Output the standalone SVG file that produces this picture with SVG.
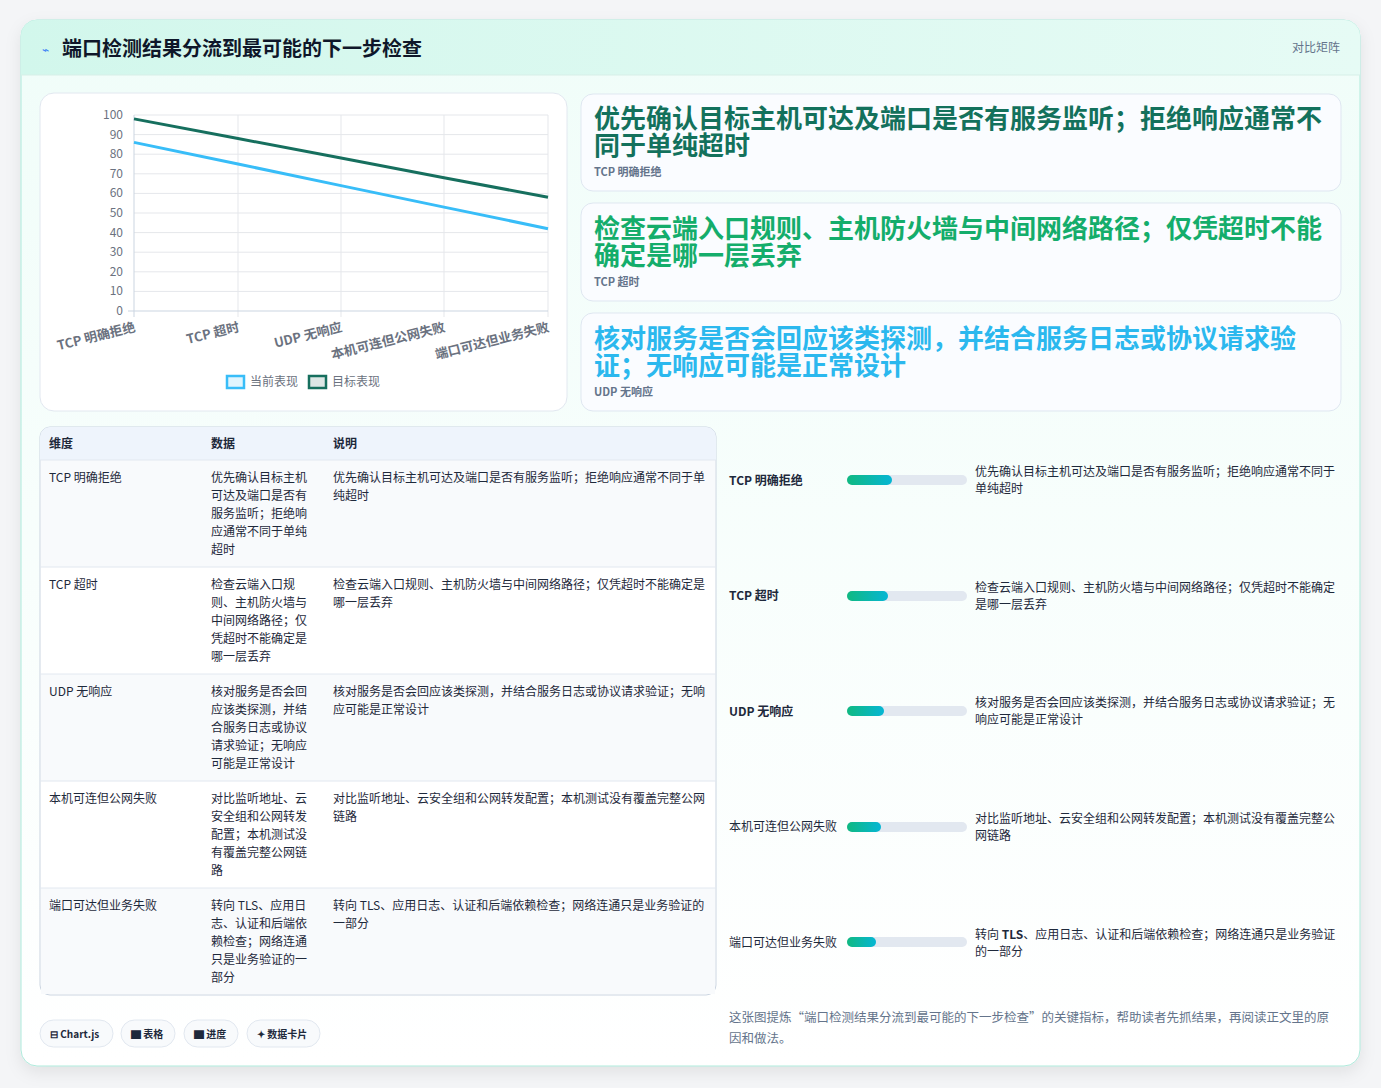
<svg xmlns="http://www.w3.org/2000/svg" width="1381" height="1088" viewBox="0 0 1381 1088">
<defs>
<linearGradient id="hdr" x1="0" x2="1"><stop offset="0" stop-color="#d2f7ec"/><stop offset="1" stop-color="#e6fbf5"/></linearGradient>
<linearGradient id="bg" x1="0" y1="0" x2="0" y2="1"><stop offset="0" stop-color="#f0fdf9"/><stop offset="1" stop-color="#ffffff"/></linearGradient>
<linearGradient id="bar" x1="0" x2="1"><stop offset="0" stop-color="#10b981"/><stop offset="1" stop-color="#06b6d4"/></linearGradient>
<filter id="sh" x="-5%" y="-5%" width="110%" height="110%"><feDropShadow dx="0" dy="6" stdDeviation="8" flood-color="#000" flood-opacity="0.08"/></filter>
</defs>
<style>
text{font-family:"Noto Sans CJK SC","Noto Sans",sans-serif;}
.card{fill:#fafcff;stroke:#dfe7f1;stroke-width:1}
.t12{font-size:12px;fill:#1e293b}
.b12{font-size:12px;fill:#1e293b;font-weight:700}
.ax{font-size:12px;fill:#6b7280;font-family:"Liberation Sans","Noto Sans CJK SC",sans-serif}
.xl{font-size:12px;fill:#6b7280;font-weight:700}
.grid{stroke:#e5e7eb;stroke-width:1}
.ct{font-size:26px;font-weight:700}
.cs{font-size:11px;fill:#64748b;font-weight:700}
.chip{fill:#f8fafc;stroke:#e2e8f0}
.ck{font-size:10px;fill:#1e293b;font-weight:700}
.rl{stroke:#e2e8f0;stroke-width:1}
</style>
<rect width="1381" height="1088" fill="#f4f5f7"/>
<g id="panel">
<rect x="21" y="20" width="1339" height="1046" rx="16" fill="url(#bg)" stroke="#aeeadb" filter="url(#sh)"/>
<path d="M21 36 a16 16 0 0 1 16 -16 H1344 a16 16 0 0 1 16 16 V75 H21 Z" fill="url(#hdr)"/>
<line x1="21" y1="75" x2="1360" y2="75" stroke="#d7efe8"/>
<text x="42" y="54" font-size="12" fill="#3b82f6">⌁</text>
<text x="62" y="56" font-size="20" font-weight="700" fill="#0f172a">端口检测结果分流到最可能的下一步检查</text>
<text x="1340" y="52" font-size="12" fill="#64748b" text-anchor="end">对比矩阵</text>
</g>
<g id="chart">
<rect x="40" y="93" width="527" height="318" rx="14" fill="#fff" stroke="#e2e8f0"/>
<g class="grid">
<line x1="134" y1="115" x2="548" y2="115"/><line x1="134" y1="134.6" x2="548" y2="134.6"/><line x1="134" y1="154.2" x2="548" y2="154.2"/><line x1="134" y1="173.8" x2="548" y2="173.8"/><line x1="134" y1="193.4" x2="548" y2="193.4"/><line x1="134" y1="213" x2="548" y2="213"/><line x1="134" y1="232.6" x2="548" y2="232.6"/><line x1="134" y1="252.2" x2="548" y2="252.2"/><line x1="134" y1="271.8" x2="548" y2="271.8"/><line x1="134" y1="291.4" x2="548" y2="291.4"/>
<line x1="238" y1="115" x2="238" y2="317"/><line x1="341" y1="115" x2="341" y2="317"/><line x1="444" y1="115" x2="444" y2="317"/><line x1="548" y1="115" x2="548" y2="317"/>
<line x1="128" y1="311" x2="548" y2="311" stroke="#cbd5e1"/><line x1="134" y1="115" x2="134" y2="317" stroke="#cbd5e1"/>
</g>
<g class="ax" text-anchor="end">
<text x="123" y="119">100</text><text x="123" y="139">90</text><text x="123" y="158">80</text><text x="123" y="178">70</text><text x="123" y="197">60</text><text x="123" y="217">50</text><text x="123" y="237">40</text><text x="123" y="256">30</text><text x="123" y="276">20</text><text x="123" y="295">10</text><text x="123" y="315">0</text>
</g>
<g class="xl" text-anchor="end">
<text transform="translate(136,331) rotate(-14)" font-size="13">TCP 明确拒绝</text>
<text transform="translate(240,331) rotate(-14)" font-size="13">TCP 超时</text>
<text transform="translate(343,331) rotate(-14)" font-size="13">UDP 无响应</text>
<text transform="translate(446,331) rotate(-14)" font-size="13">本机可连但公网失败</text>
<text transform="translate(550,331) rotate(-14)" font-size="13">端口可达但业务失败</text>
</g>
<polyline points="134,142.4 238,164 341,185.6 444,207.1 548,228.7" fill="none" stroke="#38bdf8" stroke-width="3"/>
<polyline points="134,118.9 238,138.5 341,158 444,177.7 548,197.3" fill="none" stroke="#166f5e" stroke-width="3"/>
<rect x="227" y="376" width="17" height="12" fill="#e0f5fe" stroke="#38bdf8" stroke-width="2.5"/>
<text x="250" y="386" font-size="12" fill="#6b7280">当前表现</text>
<rect x="309" y="376" width="17" height="12" fill="#dde7e5" stroke="#166f5e" stroke-width="2.5"/>
<text x="332" y="386" font-size="12" fill="#6b7280">目标表现</text>
</g>
<g id="card1">
<rect class="card" x="581" y="94" width="760" height="97" rx="12"/>
<text class="ct" x="594" y="128" fill="#13715c">优先确认目标主机可达及端口是否有服务监听；拒绝响应通常不</text>
<text class="ct" x="594" y="155" fill="#13715c">同于单纯超时</text>
<text class="cs" x="594" y="176">TCP 明确拒绝</text>
</g>
<g id="card2">
<rect class="card" x="581" y="203" width="760" height="98" rx="12"/>
<text class="ct" x="594" y="238" fill="#14ad6b">检查云端入口规则、主机防火墙与中间网络路径；仅凭超时不能</text>
<text class="ct" x="594" y="265" fill="#14ad6b">确定是哪一层丢弃</text>
<text class="cs" x="594" y="286">TCP 超时</text>
</g>
<g id="card3">
<rect class="card" x="581" y="313" width="760" height="98" rx="12"/>
<text class="ct" x="594" y="348" fill="#2bb8ee">核对服务是否会回应该类探测，并结合服务日志或协议请求验</text>
<text class="ct" x="594" y="375" fill="#2bb8ee">证；无响应可能是正常设计</text>
<text class="cs" x="594" y="396">UDP 无响应</text>
</g>
<g id="table">
<rect x="40" y="427" width="676" height="568" rx="10" fill="#fff" stroke="#cbd5e1"/>
<path d="M40 437 a10 10 0 0 1 10 -10 H706 a10 10 0 0 1 10 10 V460 H40 Z" fill="#eef4fc"/>
<text class="b12" x="49" y="448" fill="#1e3a5f">维度</text><text class="b12" x="211" y="448">数据</text><text class="b12" x="333" y="448">说明</text>
<g fill="#f8fafc"><rect x="41" y="460" width="674" height="107"/><rect x="41" y="674" width="674" height="107"/><rect x="41" y="888" width="674" height="106"/></g>
<g class="rl"><line x1="40" y1="460" x2="716" y2="460"/><line x1="40" y1="567" x2="716" y2="567"/><line x1="40" y1="674" x2="716" y2="674"/><line x1="40" y1="781" x2="716" y2="781"/><line x1="40" y1="888" x2="716" y2="888"/></g>
<g class="t12">
<text x="49" y="482">TCP 明确拒绝</text>
<text x="211" y="482">优先确认目标主机</text><text x="211" y="500">可达及端口是否有</text><text x="211" y="518">服务监听；拒绝响</text><text x="211" y="536">应通常不同于单纯</text><text x="211" y="554">超时</text>
<text x="333" y="482">优先确认目标主机可达及端口是否有服务监听；拒绝响应通常不同于单</text><text x="333" y="500">纯超时</text>
<text x="49" y="589">TCP 超时</text>
<text x="211" y="589">检查云端入口规</text><text x="211" y="607">则、主机防火墙与</text><text x="211" y="625">中间网络路径；仅</text><text x="211" y="643">凭超时不能确定是</text><text x="211" y="661">哪一层丢弃</text>
<text x="333" y="589">检查云端入口规则、主机防火墙与中间网络路径；仅凭超时不能确定是</text><text x="333" y="607">哪一层丢弃</text>
<text x="49" y="696">UDP 无响应</text>
<text x="211" y="696">核对服务是否会回</text><text x="211" y="714">应该类探测，并结</text><text x="211" y="732">合服务日志或协议</text><text x="211" y="750">请求验证；无响应</text><text x="211" y="768">可能是正常设计</text>
<text x="333" y="696">核对服务是否会回应该类探测，并结合服务日志或协议请求验证；无响</text><text x="333" y="714">应可能是正常设计</text>
<text x="49" y="803">本机可连但公网失败</text>
<text x="211" y="803">对比监听地址、云</text><text x="211" y="821">安全组和公网转发</text><text x="211" y="839">配置；本机测试没</text><text x="211" y="857">有覆盖完整公网链</text><text x="211" y="875">路</text>
<text x="333" y="803">对比监听地址、云安全组和公网转发配置；本机测试没有覆盖完整公网</text><text x="333" y="821">链路</text>
<text x="49" y="910">端口可达但业务失败</text>
<text x="211" y="910">转向 TLS、应用日</text><text x="211" y="928">志、认证和后端依</text><text x="211" y="946">赖检查；网络连通</text><text x="211" y="964">只是业务验证的一</text><text x="211" y="982">部分</text>
<text x="333" y="910">转向 TLS、应用日志、认证和后端依赖检查；网络连通只是业务验证的</text><text x="333" y="928">一部分</text>
</g>
</g>
<g id="progress">
<g fill="#e2e8f0"><rect x="847" y="475" width="120" height="10" rx="5"/><rect x="847" y="591" width="120" height="10" rx="5"/><rect x="847" y="706" width="120" height="10" rx="5"/><rect x="847" y="822" width="120" height="10" rx="5"/><rect x="847" y="937" width="120" height="10" rx="5"/></g>
<g fill="url(#bar)"><rect x="847" y="475" width="45" height="10" rx="5"/><rect x="847" y="591" width="41" height="10" rx="5"/><rect x="847" y="706" width="37" height="10" rx="5"/><rect x="847" y="822" width="34" height="10" rx="5"/><rect x="847" y="937" width="29" height="10" rx="5"/></g>
<g class="b12"><text x="729" y="485">TCP 明确拒绝</text><text x="729" y="600">TCP 超时</text><text x="729" y="716">UDP 无响应</text></g>
<g class="t12"><text x="729" y="831">本机可连但公网失败</text><text x="729" y="947">端口可达但业务失败</text>
<text x="975" y="476">优先确认目标主机可达及端口是否有服务监听；拒绝响应通常不同于</text><text x="975" y="493">单纯超时</text>
<text x="975" y="592">检查云端入口规则、主机防火墙与中间网络路径；仅凭超时不能确定</text><text x="975" y="609">是哪一层丢弃</text>
<text x="975" y="707">核对服务是否会回应该类探测，并结合服务日志或协议请求验证；无</text><text x="975" y="724">响应可能是正常设计</text>
<text x="975" y="823">对比监听地址、云安全组和公网转发配置；本机测试没有覆盖完整公</text><text x="975" y="840">网链路</text>
<text x="975" y="939">转向 <tspan font-weight="700">TLS</tspan>、应用日志、认证和后端依赖检查；网络连通只是业务验证</text><text x="975" y="956">的一部分</text></g>
</g>
<g id="chips">
<rect class="chip" x="40" y="1020" width="73" height="27" rx="13.5"/><text class="ck" x="50" y="1038">⊟ Chart.js</text>
<rect class="chip" x="121" y="1020" width="54" height="27" rx="13.5"/><text class="ck" x="131" y="1038">▇ 表格</text>
<rect class="chip" x="184" y="1020" width="54" height="27" rx="13.5"/><text class="ck" x="194" y="1038">▇ 进度</text>
<rect class="chip" x="247" y="1020" width="73" height="27" rx="13.5"/><text class="ck" x="257" y="1038">✦ 数据卡片</text>
</g>
<g id="note" font-size="12.5" fill="#64748b">
<text x="729" y="1022">这张图提炼“端口检测结果分流到最可能的下一步检查”的关键指标，帮助读者先抓结果，再阅读正文里的原</text>
<text x="729" y="1043">因和做法。</text>
</g>
</svg>
